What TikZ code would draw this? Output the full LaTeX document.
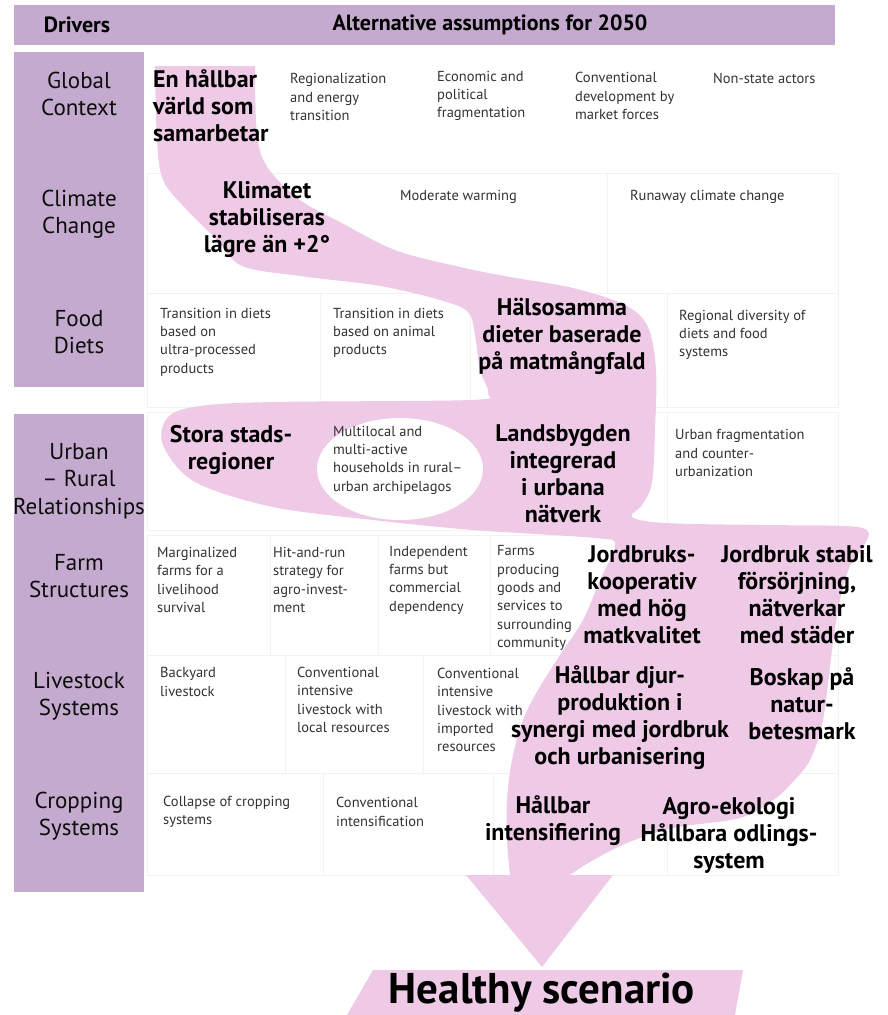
\documentclass[tikz,border=0pt]{standalone}
\usepackage{fontspec}
\setmainfont{PT Sans}
\definecolor{lavender}{RGB}{196,170,206}
\definecolor{bandpink}{RGB}{238,202,230}
\definecolor{inkgray}{RGB}{50,50,50}

\begin{document}
\begin{tikzpicture}
  [x=1pt, y=-1pt,
   drivercell/.style={fill=lavender},
   rowlabel/.style={align=center, inner sep=0pt, text=black!95,
                    font=\fontsize{23}{27.5}\selectfont},
   option/.style={align=left, anchor=west, inner sep=0pt, text=inkgray,
                  font=\fontsize{14.5}{18.3}\selectfont},
   pick/.style={align=center, inner sep=0pt,
                font=\bfseries\fontsize{24}{27}\selectfont},
   pickleft/.style={pick, align=left, anchor=west},
   gridline/.style={draw=black!5, line width=0.6pt}
  ]
  \useasboundingbox (0,0) rectangle (887,1015);

  % faint cell borders
  \draw[gridline] (147,173) rectangle (838,293) (607,173) -- (607,293);
  \draw[gridline] (147,293) rectangle (838,407) (320,293) -- (320,407)
                  (470,293) -- (470,407) (667,293) -- (667,407);
  \draw[gridline] (147,412) rectangle (838,530) (667,412) -- (667,530);
  \draw[gridline] (147,535) rectangle (838,655) (270,535) -- (270,655)
                  (378,535) -- (378,655) (490,535) -- (490,655);
  \draw[gridline] (147,655) rectangle (838,773) (285,655) -- (285,773)
                  (423,655) -- (423,773);
  \draw[gridline] (147,773) rectangle (838,875) (323,773) -- (323,875)
                  (493,773) -- (493,875) (667,773) -- (667,875);

  % header and driver column
  \fill[drivercell] (14,5) rectangle (835,45);
  \fill[drivercell] (14,52) rectangle (144,387);
  \fill[drivercell] (14,414) rectangle (144,892);

  % the healthy pathway
  \fill[bandpink] (155,66) -- (255,66)
    -- plot[smooth, tension=.55] coordinates {(255,66) (257,135) (268,168)
         (300,200) (340,222) (395,250) (460,267) (510,277) (573,288)
         (625,305) (648,327) (656,370) (655,430) (652,483) (642,505)
         (632,517) (665,523) (760,525) (845,526) (868,531) (864,546)
         (850,566) (840,600) (832,650) (823,720) (810,760) (790,785)
         (773,800) (740,818) (673,828) (627,843) (590,862) (570,875)}
    -- (510,875)
    -- plot[smooth, tension=.55] coordinates {(510,875) (507,840) (507,800)
         (512,760) (523,720) (538,690) (560,655) (583,620) (600,580)
         (615,545) (595,538) (473,530) (373,520) (273,507) (195,482)
         (163,445) (168,417) (200,406) (273,402) (470,400) (488,393)
         (480,370) (475,335) (468,312) (440,300) (380,286) (300,276)
         (242,266) (217,240) (185,208) (163,180) (157,140) (155,66)}
    -- cycle;
  \fill[white] (400,469) ellipse [x radius=83, y radius=51];
  \fill[bandpink] (466,875) -- (613,875) -- (542,967) -- cycle;
  \fill[bandpink] (373,970) -- (743,970) -- (735,1015) -- (347,1015) -- cycle;

  % header texts
  \node[font=\bfseries\fontsize{22}{26}\selectfont] (drv) at (77,25) {Drivers};
  \node[font=\bfseries\fontsize{22}{26}\selectfont] (alt) at (490,25)
       {Alternative assumptions for 2050};

  % row labels
  \node[rowlabel] (gc) at (79,94)  {Global\\Context};
  \node[rowlabel] (cc) at (79,214) {Climate\\Change};
  \node[rowlabel] (fd) at (79,332) {Food\\Diets};
  \node[rowlabel] (ur) at (79,481) {Urban\\– Rural\\Relationships};
  \node[rowlabel] (fs) at (79,576) {Farm\\Structures};
  \node[rowlabel] (ls) at (79,696) {Livestock\\Systems};
  \node[rowlabel] (cs) at (79,816) {Cropping\\Systems};

  % global context
  \node[pickleft] (gcA) at (153,106) {En hållbar\\värld som\\samarbetar};
  \node[option] (gcB) at (290,97)  {Regionalization\\and energy\\transition};
  \node[option] (gcC) at (437,96)  {Economic and\\political\\fragmentation};
  \node[option] (gcD) at (575,96)  {Conventional\\development by\\market forces};
  \node[option] (gcE) at (713,78)  {Non-state actors};

  % climate change
  \node[pick]   (ccA) at (267,220) {Klimatet\\stabiliseras\\lägre än +2°};
  \node[option] (ccB) at (400,197) {Moderate warming};
  \node[option] (ccC) at (630,197) {Runaway climate change};

  % food diets
  \node[option] (fdA) at (160,342) {Transition in diets\\based on\\ultra-processed\\products};
  \node[option] (fdB) at (333,333) {Transition in diets\\based on animal\\products};
  \node[pick]   (fdC) at (562,336) {Hälsosamma\\dieter baserade\\på matmångfald};
  \node[option] (fdD) at (679,335) {Regional diversity of\\diets and food\\systems};

  % urban - rural
  \node[pick]   (urA) at (231,450) {Stora stads-\\regioner};
  \node[option] (urB) at (333,460) {Multilocal and\\multi-active\\households in rural–\\urban archipelagos};
  \node[pick]   (urC) at (563,474) {Landsbygden\\integrerad\\i urbana\\nätverk};
  \node[option] (urD) at (675,453) {Urban fragmentation\\and counter-\\urbanization};

  % farm structures
  \node[option] (fsA) at (157,580) {Marginalized\\farms for a\\livelihood\\survival};
  \node[option] (fsB) at (273,580) {Hit-and-run\\strategy for\\agro-invest-\\ment};
  \node[option] (fsC) at (389,580) {Independent\\farms but\\commercial\\dependency};
  \node[option] (fsD) at (497,598) {Farms\\producing\\goods and\\services to\\surrounding\\community};
  \node[pick]   (fsE) at (642,595) {Jordbruks-\\kooperativ\\med hög\\matkvalitet};
  \node[pick]   (fsF) at (797,595) {Jordbruk stabil\\försörjning,\\nätverkar\\med städer};

  % livestock systems
  \node[option] (lsA) at (160,682) {Backyard\\livestock};
  \node[option] (lsB) at (297,700) {Conventional\\intensive\\livestock with\\local resources};
  \node[option] (lsC) at (437,710) {Conventional\\intensive\\livestock with\\imported\\resources};
  \node[pick]   (lsD) at (620,718) {Hållbar djur-\\produktion i\\synergi med jordbruk\\och urbanisering};
  \node[pick]   (lsE) at (802,704) {Boskap på\\natur-\\betesmark};

  % cropping systems
  \node[option] (csA) at (163,812) {Collapse of cropping\\systems};
  \node[option] (csB) at (336,812) {Conventional\\intensification};
  \node[pick]   (csC) at (553,821) {Hållbar\\intensifiering};
  \node[pick]   (csD) at (729,835) {Agro-ekologi\\Hållbara odlings-\\system};

  % outcome
  \node[font=\bfseries\fontsize{43}{48}\selectfont] (hs) at (542,993) {Healthy scenario};
\end{tikzpicture}
\end{document}
